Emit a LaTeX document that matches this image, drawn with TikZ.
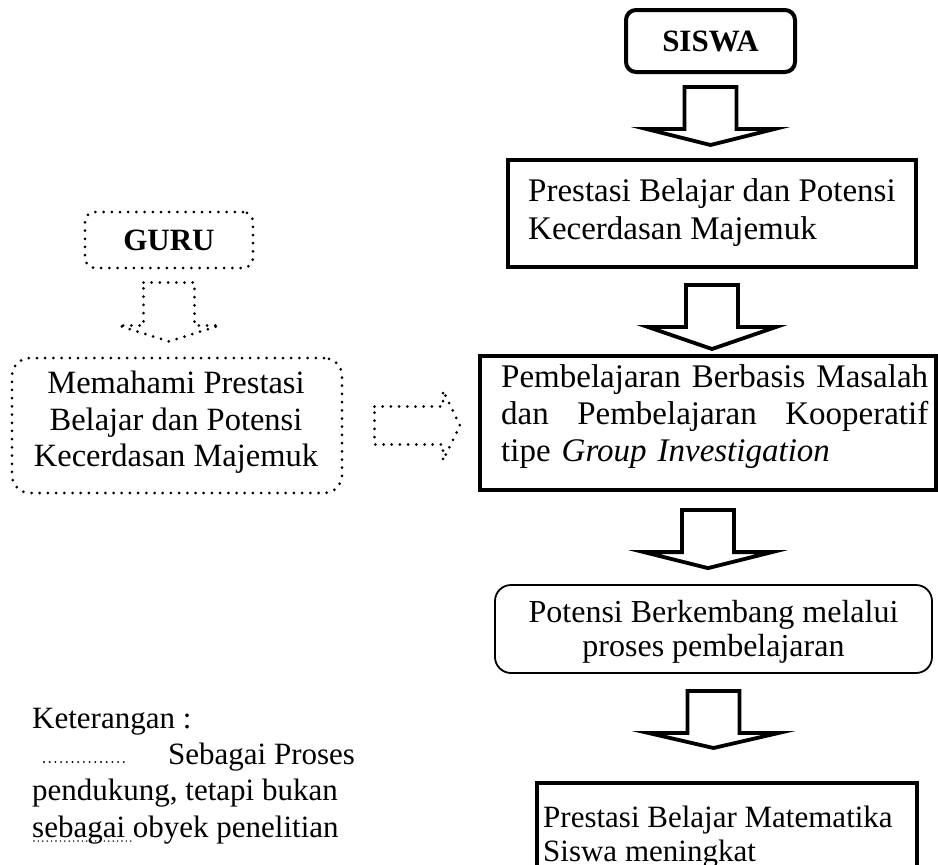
\documentclass[tikz,border=0pt]{standalone}
\usepackage{fontspec}
\setmainfont{Liberation Serif}
\usetikzlibrary{calc}
\tikzset{
  solidbox/.style={draw, line width=4pt, inner sep=0pt},
  roundbox/.style={draw, line width=1.8pt, rounded corners=16pt, inner sep=0pt},
  dotline/.style={line width=3pt, line cap=round, dash pattern=on 0pt off 8.2pt},
  dotbox/.style={draw, dotline, rounded corners=14pt, inner sep=0pt},
  blk/.style={draw, line width=3.8pt, line join=miter, fill=white},
  dotarrow/.style={dotline, line join=round},
  txt/.style={inner sep=0pt, anchor=north west, align=left},
  ctxt/.style={inner sep=0pt, anchor=north, align=center},
  legend/.style={inner sep=0pt, anchor=base west, font=\fontsize{31}{36}\selectfont},
}
% #1 style, #2 from, #3 to, #4 top gap, #5 tip gap, #6 head length, #7 shaft half width, #8 wing half width
\newcommand\blkarrow[8]{%
  \draw[#1] let \p1=(#2), \p2=(#3) in
    (\x1-#7pt,\y1-#4pt) -- (\x1+#7pt,\y1-#4pt) -- (\x1+#7pt,\y2+#5pt+#6pt)
    -- (\x1+#8pt,\y2+#5pt+#6pt) -- (\x1,\y2+#5pt) -- (\x1-#8pt,\y2+#5pt+#6pt)
    -- (\x1-#7pt,\y2+#5pt+#6pt) -- cycle;}
\begin{document}
\begin{tikzpicture}[x=1pt,y=-1pt]
\useasboundingbox (0,0) rectangle (938,865);
\clip (0,0) rectangle (938,865);
\fill[white] (0,0) rectangle (938,865);

% ---------- right column ----------
\node[solidbox, rounded corners=10pt, minimum width=169pt, minimum height=62pt,
      font=\fontsize{31}{36}\selectfont\bfseries] (siswa) at (710.5,41) {SISWA};

\node[solidbox, minimum width=408pt, minimum height=107pt] (b1) at (712,213.5) {};
\node[txt, font=\fontsize{33}{38}\selectfont] (t1) at ($(b1.north west)+(22,18)$)
  {\rule{0pt}{25pt}Prestasi Belajar dan Potensi\\Kecerdasan Majemuk};

\node[solidbox, minimum width=456pt, minimum height=134pt] (b3) at (708,423) {};
\node[txt, text width=427pt, font=\fontsize{33}{37}\selectfont] (t3) at ($(b3.north west)+(23,8)$)
  {\rule{0pt}{25pt}Pembelajaran\hfill Berbasis\hfill Masalah\\
   dan\hfill Pembelajaran\hfill Kooperatif\\
   tipe \textit{Group Investigation}};

\node[roundbox, minimum width=437pt, minimum height=88pt] (b4) at (713.5,629) {};
\node[ctxt, font=\fontsize{32}{34}\selectfont] (t4) at ($(b4.north)+(0,13)$)
  {\rule{0pt}{25pt}Potensi Berkembang melalui\\proses pembelajaran};

\node[solidbox, minimum width=380pt, minimum height=130pt] (b5) at (727,848) {};
\node[txt, font=\fontsize{31}{34}\selectfont] (t5) at ($(b5.north west)+(8,21)$)
  {\rule{0pt}{25pt}Prestasi Belajar Matematika\\Siswa meningkat};

\blkarrow{blk}{siswa.south}{b1.north}{13}{13}{16}{26}{64}
\blkarrow{blk}{b1.south}{b3.north}{16}{5}{22}{26}{64}
\blkarrow{blk}{b3.south}{b4.north}{18}{16}{16}{26}{64}
\blkarrow{blk}{b4.south}{b5.north}{17}{33}{15}{26}{65}

% ---------- left column ----------
\node[dotbox, rounded corners=10pt, minimum width=168pt, minimum height=56pt,
      font=\fontsize{31}{36}\selectfont\bfseries] (guru) at (169,240) {GURU};

\node[dotbox, rounded corners=18pt, minimum width=330pt, minimum height=135pt] (mem) at (177,425.5) {};
\node[ctxt, font=\fontsize{32.5}{36.5}\selectfont] (tm) at ($(mem.north)+(-1,12)$)
  {\rule{0pt}{25pt}Memahami Prestasi\\Belajar dan Potensi\\Kecerdasan Majemuk};

\blkarrow{dotarrow}{guru.south}{mem.north}{13}{15}{16}{25.5}{50.5}

\draw[dotarrow] let \p1=(mem.east), \p2=(b3.west) in
  (\x1+31pt,\y1+19pt) -- (\x2-35pt,\y1+19pt) -- (\x2-35pt,\y1+35pt)
  -- (\x2-18pt,\y1) -- (\x2-35pt,\y1-35pt) -- (\x2-35pt,\y1-19pt)
  -- (\x1+31pt,\y1-19pt) -- cycle;

% ---------- legend ----------
\node[legend] (ket) at (32,728) {Keterangan :};
\node[legend] (k1) at (168,764) {Sebagai Proses};
\node[legend] (k2) at (32,800) {pendukung, tetapi bukan};
\node[legend] (k3) at (32,837) {sebagai obyek penelitian};
\draw[line width=2.1pt, line cap=round, dash pattern=on 0pt off 5.7pt]
  ($(ket.base west)+(12,34)$) -- ++(80,0);
\draw[line width=1.6pt, line cap=round, dash pattern=on 0pt off 4.4pt]
  ($(k3.base west)+(2,4)$) -- ++(100,0);
\end{tikzpicture}
\end{document}
